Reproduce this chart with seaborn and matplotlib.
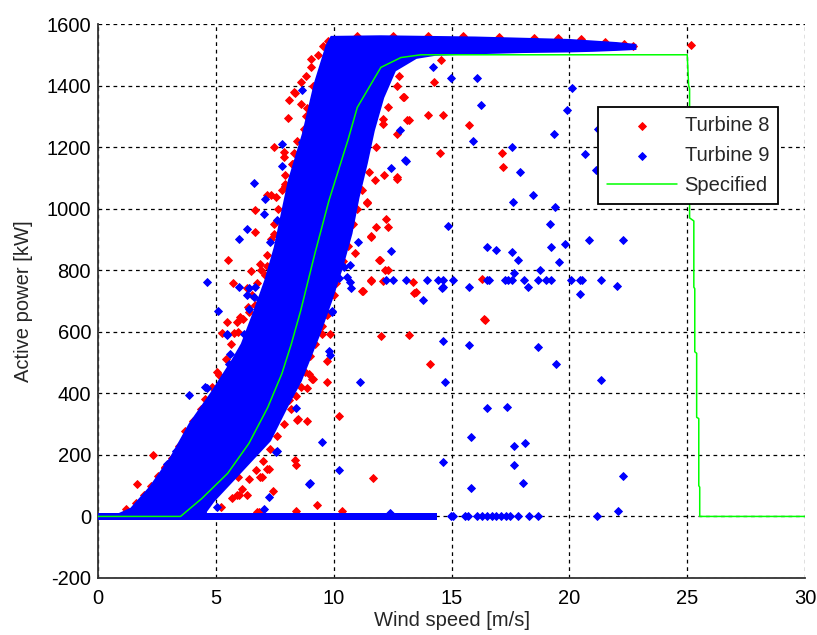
import matplotlib
matplotlib.use("Agg")
import matplotlib.pyplot as plt
import seaborn as sns
import pandas as pd

# ---------------- data ----------------
# Turbine 8 (red) visible individual points
t8_x = [25.16, 14.55, 14.27, 13.2, 14.0, 14.64, 15.74, 14.5, 17.13, 17.2, 13.35, 13.5, 16.3, 16.37,
        13.2, 16.4, 14.1,
        9.09, 9.73, 8.88, 8.88, 10.23, 11.65, 9.3, 10.34,
        11.4, 12.2, 12.3, 11.8, 11.6, 10.9, 11.96, 12.17, 11.6, 12.1, 11.25, 12.0, 10.0, 9.6, 9.5, 9.7, 9.7,
        9.02, 12.7, 12.14, 11.74, 12.95, 12.7,
        8.6, 8.31, 8.1, 8.06, 8.88, 8.85, 7.46, 7.89, 8.28, 7.93, 7.18, 7.55, 6.68, 6.68, 8.31, 7.18, 6.47,
        5.52, 5.72, 7.6, 10.72, 11.43, 11.57, 11.93, 13.13, 12.7, 12.07, 12.99, 12.3, 11.22, 11.57, 13.4,
        2.35, 1.67, 1.19, 3.7, 3.99, 5.05, 5.26, 5.76, 5.48, 6.4, 8.38, 8.35, 8.38, 8.5, 9.14, 9.84, 7.43,
        6.33, 5.9, 6.75, 5.93, 6.89, 7.18,
        2.85, 4.55, 5.05, 5.12, 5.26, 8.45, 7.25, 6.97, 5.97, 6.82, 8.1, 8.67, 8.95,
        7.93, 7.32, 7.46, 6.89, 6.33, 6.04, 5.9, 7.89, 7.1, 6.68,
        8.34, 7.89, 8.24, 8.84,
        # speckles along the left edge of the cloud
        9.05, 9.33, 9.55, 9.75, 8.82, 9.12, 8.62, 8.83, 8.72, 8.45, 8.32, 7.92, 7.8, 7.63, 7.45, 7.33, 7.15,
        6.93, 6.75, 6.55, 6.35, 6.15, 5.95, 5.65, 5.45, 5.15, 4.85, 4.55, 4.35, 4.05, 3.75, 3.45, 3.15,
        2.85, 2.55, 2.25, 1.95, 1.62,
        # speckles along the right edge of the cloud
        12.9, 12.78, 12.68, 12.3, 12.08, 11.8, 11.5, 11.2, 11.0, 10.8, 10.6, 10.4, 10.1, 9.9, 9.7, 9.5,
        9.2, 9.0, 8.8, 8.6, 8.4, 8.2, 7.9, 7.6, 7.3, 7.0, 6.7, 6.4, 6.1, 5.7, 5.2,
        # speckles along the top of the rated-power band
        11.0, 12.5, 14.0, 15.5, 17.0, 18.5, 19.5, 20.5, 21.5, 22.3, 22.7]
t8_p = [1532, 1484, 1411, 1289, 1304, 1304, 1273, 1182, 1182, 1136, 763, 728, 770, 642,
        590, 637, 496,
        447, 436, 418, 310, 326, 126, 36, 19,
        1018, 967, 940, 940, 910, 856, 834, 802, 765, 765, 734, 585, 721, 705, 593, 653, 504,
        1485, 1102, 1108, 1094, 1362, 1241,
        1411, 1379, 1352, 1295, 1328, 1245, 1200, 1184, 1146, 1079, 1043, 1037, 997, 924, 1027, 815, 797,
        834, 760, 842, 1094, 1021, 908, 834, 1287, 1097, 1276, 1362, 801, 731, 767, 725,
        198, 104, 25, 279, 292, 469, 596, 596, 631, 664, 19, 184, 166, 315, 447, 593, 84,
        68, 68, 13, 128, 128, 155,
        156, 323, 409, 344, 312, 312, 155, 128, 68, 14, 377, 496, 464,
        1075, 1043, 918, 819, 743, 648, 631, 897, 783, 686,
        1375, 1167, 1146, 1249,
        1460, 1500, 1530, 1545, 1430, 1400, 1340, 1300, 1260, 1220, 1180, 1110, 1060, 1000, 950, 900, 850,
        800, 760, 720, 680, 640, 600, 560, 510, 460, 420, 380, 350, 310, 260, 230, 190, 160, 130, 100, 70, 45,
        1480, 1430, 1400, 1330, 1290, 1200, 1120, 1060, 1000, 950, 880, 830, 760, 720, 660, 620,
        560, 520, 470, 420, 390, 350, 300, 260, 220, 180, 150, 120, 90, 60, 30,
        1562, 1562, 1561, 1560, 1558, 1556, 1553, 1550, 1542, 1535, 1530]

# Turbine 9 (blue) visible individual points
t9_x = [14.98, 16.1, 14.23, 20.09, 16.23, 19.9, 19.35, 21.2, 15.9, 13.06, 17.56, 17.9, 18.45, 17.6, 19.4,
        20.65, 21.15, 14.86, 19.16, 16.52, 16.87, 17.55, 17.83, 19.22, 19.83, 19.57, 20.82, 22.27, 17.63, 18.75,
        13.06, 13.96, 14.41, 14.62, 15.05, 16.51, 16.61, 17.25, 17.39, 17.56, 18.67, 18.99, 19.23, 20.06, 20.47,
        20.54, 21.36, 15.76, 18.07, 18.24, 22.0, 14.62, 13.8, 20.47,
        14.64, 15.76, 18.67, 19.42, 21.36, 14.71, 16.51, 17.35, 15.82, 17.63, 18.11, 14.64, 17.63, 18.04, 15.82,
        22.27, 22.06,
        11.12, 9.52, 10.23, 8.98, 12.4,
        11.05, 12.43, 10.7, 10.68, 10.72, 12.2, 12.5, 14.6, 9.94, 10.23, 9.79, 9.86,
        13.03, 12.43, 12.8,
        6.61, 5.97, 6.33, 7.1, 7.03, 7.79, 7.79, 8.64, 9.66, 4.62, 5.08, 6.4, 6.61, 10.44, 10.58, 9.91,
        3.84, 4.62, 3.77, 3.3, 5.55, 5.59, 5.48, 7.56, 7.25, 7.03, 8.38, 2.92, 5.05,
        4.55, 5.69, 3.7, 7.6, 8.95, 4.41,
        7.28, 5.97, 6.68, 6.33, 6.89, 6.4, 5.48, 6.18, 7.6, 7.6,
        8.67, 8.38,
        14.98, 15.05, 15.55, 15.69, 16.1, 16.3, 16.5, 16.7, 16.9, 17.1, 17.3, 17.5, 17.8, 18.3, 18.67, 21.18]
t9_p = [1425, 1425, 1460, 1393, 1336, 1320, 1241, 1258, 1219, 1156, 1199, 1119, 1045, 1023, 1004,
        1177, 1124, 943, 950, 875, 865, 860, 834, 875, 886, 828, 897, 897, 791, 801,
        767, 767, 767, 767, 767, 767, 767, 767, 767, 767, 767, 767, 767, 767, 767,
        767, 767, 745, 767, 745, 750, 745, 702, 723,
        570, 558, 552, 495, 442, 436, 352, 357, 257, 230, 240, 178, 167, 108, 92,
        130, 18,
        436, 241, 152, 108, 10,
        891, 861, 818, 761, 743, 767, 769, 743, 664, 774, 539, 526,
        1157, 1133, 1254,
        1083, 903, 935, 1030, 983, 1211, 1138, 1387, 1481, 763, 669, 743, 712, 810, 777, 669,
        395, 417, 252, 214, 496, 529, 593, 209, 63, 23, 352, 171, 30,
        420, 496, 253, 214, 106, 14,
        891, 745, 745, 718, 704, 675, 591, 593, 842, 962,
        1216, 1102,
        0, 0, 0, 0, 0, 0, 0, 0, 0, 0, 0, 0, 0, 0, 0, 0]

# Dense core of the Turbine 9 cloud (outline: left edge up, top band, right edge down)
core_x = [0.9, 1.4, 2.2, 3.1, 3.9, 4.8, 5.7, 6.1, 6.6, 7.1, 7.5, 7.8, 8.1, 8.7, 9.2, 9.7, 9.9,
          12.0, 14.0, 16.0, 18.0, 20.0, 21.0, 22.0, 22.8,
          22.8, 22.0, 21.0, 20.0, 18.0, 16.0, 14.3, 13.5, 12.6,
          12.1, 11.7, 11.4, 11.05, 10.75, 10.35, 9.9, 9.4, 8.95, 8.6, 8.0, 7.3, 6.0, 4.9, 4.5]
core_p = [8, 25, 94, 192, 302, 400, 507, 560, 660, 767, 874, 984, 1092, 1244, 1407, 1530, 1558,
          1560, 1558, 1556, 1552, 1548, 1543, 1538, 1532,
          1519, 1516, 1513, 1511, 1509, 1505, 1500, 1490, 1449,
          1361, 1254, 1147, 1036, 919, 809, 702, 594, 507, 440, 354, 247, 140, 50, 8]

# Dense row of zero-power points
zero_x = [0.0, 14.4]
zero_lo = [-12, -12]
zero_hi = [11, 11]

# Specified power curve
spec_x = [0, 3.5, 4.4, 5.5, 6.4, 7.2, 7.8, 8.2, 8.6, 9.2, 9.8, 10.6, 11.0, 12.0, 12.85, 13.7,
          25.0, 25.06, 25.1, 25.1, 25.28, 25.28, 25.32, 25.32, 25.4, 25.4, 25.49, 25.49, 25.53, 25.53, 30]
spec_p = [0, 0, 58, 140, 237, 354, 464, 560, 669, 854, 1027, 1222, 1329, 1459, 1491, 1500,
          1500, 1400, 1390, 970, 960, 745, 740, 535, 530, 322, 318, 100, 95, 0, 0]

x_ticks = [0, 5, 10, 15, 20, 25, 30]
y_ticks = [-200, 0, 200, 400, 600, 800, 1000, 1200, 1400, 1600]

# ---------------- plotting ----------------
sns.set_style("white")
plt.rcParams['font.family'] = ['Liberation Sans', 'DejaVu Sans']

fig = plt.figure(figsize=(8.17, 6.35), dpi=100)
ax = fig.add_axes([0.12, 0.0898, 0.8654, 0.8724])

RED = "#ff0000"
BLUE = "#0000ff"
GREEN = "#00ff00"

df8 = pd.DataFrame({"x": t8_x, "p": t8_p})
df9 = pd.DataFrame({"x": t9_x, "p": t9_p})
dfs = pd.DataFrame({"x": spec_x, "p": spec_p})

sns.scatterplot(data=df8, x="x", y="p", ax=ax, color=RED, marker="D", s=16,
                linewidth=0.7, edgecolor=RED, label="Turbine 8", zorder=3)
ax.fill(core_x, core_p, color=BLUE, lw=1.5, ec=BLUE, zorder=4)
ax.fill_between(zero_x, zero_lo, zero_hi, color=BLUE, lw=0, zorder=4)
sns.scatterplot(data=df9, x="x", y="p", ax=ax, color=BLUE, marker="D", s=16,
                linewidth=0.7, edgecolor=BLUE, label="Turbine 9", zorder=5)
sns.lineplot(data=dfs, x="x", y="p", ax=ax, color=GREEN, lw=1.1, sort=False,
             estimator=None, label="Specified", zorder=6)

ax.set_xlim(0, 30)
ax.set_ylim(-200, 1600)
ax.set_xticks(x_ticks)
ax.set_yticks(y_ticks)
ax.set_xticklabels([str(v) for v in x_ticks])
ax.set_yticklabels([str(v) for v in y_ticks])

ax.grid(True, color="black", linestyle=(0, (3, 3)), linewidth=0.9, zorder=1)
ax.set_axisbelow(True)
for s in ["top", "right"]:
    ax.spines[s].set_visible(False)
for s in ["left", "bottom"]:
    ax.spines[s].set_color("#333333")
    ax.spines[s].set_linewidth(1.3)

ax.tick_params(axis="both", direction="in", length=4, width=1, colors="#333333",
               labelcolor="black", labelsize=14.5)
ax.tick_params(axis="y", pad=5)
ax.tick_params(axis="x", pad=8)

ax.set_xlabel("Wind speed [m/s]", fontsize=14.5, labelpad=2)
ax.set_ylabel("Active power [kW]", fontsize=14.5, labelpad=10)

leg = ax.legend(loc="upper left", bbox_to_anchor=(0.707, 0.85), frameon=True, fancybox=False,
                fontsize=14.5, borderpad=0.45, labelspacing=0.55, handlelength=3.5,
                handletextpad=0.35, borderaxespad=0, markerscale=1.0)
leg.get_frame().set_edgecolor("black")
leg.get_frame().set_linewidth(1.3)
leg.get_frame().set_facecolor("white")
leg.get_frame().set_alpha(1)
leg.set_zorder(10)

fig.savefig("out.png", dpi=100, facecolor="white")
